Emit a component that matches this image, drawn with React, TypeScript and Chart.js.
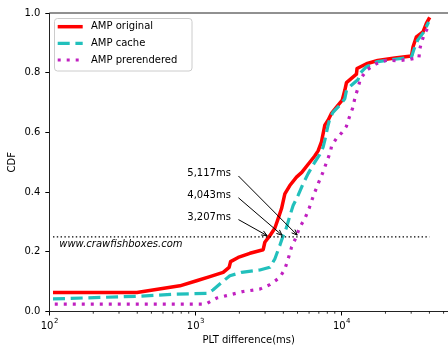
import React, { useEffect, useRef } from 'react';
import { Chart, registerables } from 'chart.js';

Chart.register(...registerables);

const FONT = "'DejaVu Sans', 'Liberation Sans', sans-serif";

// ---- data ----
const seriesLabels = ['AMP original', 'AMP cache', 'AMP prerendered'];
const seriesColors = ['#ff0000', '#22c0bc', '#c020c0'];

const originalX = [106, 398, 783, 1019, 1257, 1549, 1702, 1741, 1963, 2360, 2911, 2988, 3234, 3497, 3685, 3888, 4095, 4429, 4920, 5349, 6066, 6561, 6918, 7295, 7688, 8098, 8545, 9247, 10120, 10540, 10820, 11700, 12660, 12780, 14830, 17700, 23170, 30120, 30890, 32580, 36140, 38110, 40180];
const originalY = [0.064, 0.064, 0.086, 0.103, 0.117, 0.131, 0.148, 0.167, 0.181, 0.195, 0.207, 0.232, 0.254, 0.279, 0.311, 0.345, 0.394, 0.422, 0.45, 0.466, 0.5, 0.521, 0.538, 0.568, 0.624, 0.641, 0.664, 0.685, 0.708, 0.741, 0.767, 0.781, 0.795, 0.814, 0.83, 0.841, 0.849, 0.856, 0.887, 0.92, 0.937, 0.965, 0.985];

const cacheX = [106, 398, 724, 1218, 1318, 1510, 1722, 2070, 2761, 3234, 3497, 3783, 3987, 4206, 4429, 4667, 5047, 5459, 5910, 6561, 7108, 7487, 7688, 8098, 8318, 8770, 9732, 10540, 10820, 11700, 12990, 13340, 14830, 17350, 23170, 30120, 31230, 33240, 36560, 39510];
const cacheY = [0.042, 0.051, 0.058, 0.061, 0.072, 0.097, 0.12, 0.131, 0.139, 0.148, 0.176, 0.221, 0.254, 0.282, 0.32, 0.355, 0.389, 0.428, 0.462, 0.5, 0.526, 0.551, 0.573, 0.624, 0.646, 0.668, 0.691, 0.713, 0.741, 0.758, 0.777, 0.797, 0.82, 0.836, 0.845, 0.852, 0.876, 0.909, 0.936, 0.97];

const prerenderX = [109, 1180, 1397, 1634, 2123, 2761, 3234, 3783, 4095, 4315, 4549, 4900, 5150, 5600, 6000, 6450, 6950, 7450, 7900, 8400, 8560, 9250, 10100, 10800, 11300, 11900, 12400, 12900, 13500, 15000, 17300, 20400, 24300, 29300, 33900, 34400, 35400, 37500, 40200];
const prerenderY = [0.025, 0.025, 0.045, 0.053, 0.067, 0.075, 0.09, 0.114, 0.142, 0.176, 0.215, 0.25, 0.28, 0.31, 0.345, 0.39, 0.43, 0.465, 0.5, 0.535, 0.555, 0.58, 0.6, 0.62, 0.65, 0.68, 0.718, 0.745, 0.78, 0.81, 0.83, 0.842, 0.84, 0.845, 0.85, 0.88, 0.905, 0.935, 0.963];

const refLineX = [106, 40000];
const refLineY = [0.25, 0.25];

const annotValues = [5117, 4043, 3207];
const annotLabels = ['5,117ms', '4,043ms', '3,207ms'];
const annotTextY = [0.462, 0.389, 0.316];
const annotTextX = 880;
const annotTailX = 1970;
const annotLevel = 0.25;

const watermarkText = 'www.crawfishboxes.com';
const watermarkX = 117;
const watermarkY = 0.224;

const xMin = 100;
const xMax = 53600;
const xMajorTicks = [100, 1000, 10000];
const xTickBase = ['10', '10', '10'];
const xTickExp = ['2', '3', '4'];
const yTicks = [0, 0.2, 0.4, 0.6, 0.8, 1.0];

const xTitle = 'PLT difference(ms)';
const yTitle = 'CDF';

const dashes = [[], [12, 5.7], [3, 6]];
const widths = [3.5, 3.2, 3.2];

function pts(xs: number[], ys: number[]) {
  return xs.map((x, i) => ({ x, y: ys[i] }));
}

const decorPlugin = {
  id: 'decor',
  afterDatasetsDraw(chart: any) {
    const ctx: CanvasRenderingContext2D = chart.ctx;
    const xs = chart.scales.x;
    const ys = chart.scales.y;
    const ca = chart.chartArea;
    ctx.save();

    // top spine
    ctx.strokeStyle = '#222';
    ctx.lineWidth = 1;
    ctx.beginPath();
    ctx.moveTo(ca.left, ca.top);
    ctx.lineTo(ca.right, ca.top);
    ctx.stroke();

    // minor x ticks
    ctx.strokeStyle = '#000';
    ctx.lineWidth = 0.8;
    for (const dec of xMajorTicks) {
      for (let m = 2; m <= 9; m++) {
        const v = m * dec;
        if (v > xMax) continue;
        const px = xs.getPixelForValue(v);
        ctx.beginPath();
        ctx.moveTo(px, ca.bottom);
        ctx.lineTo(px, ca.bottom + 2.2);
        ctx.stroke();
      }
    }

    // x tick labels with superscripts
    ctx.fillStyle = '#000';
    ctx.textBaseline = 'alphabetic';
    for (let i = 0; i < xMajorTicks.length; i++) {
      const px = xs.getPixelForValue(xMajorTicks[i]);
      ctx.font = `10px ${FONT}`;
      const wb = ctx.measureText(xTickBase[i]).width;
      ctx.font = `7px ${FONT}`;
      const we = ctx.measureText(xTickExp[i]).width;
      const left = px - (wb + we) / 2;
      ctx.font = `10px ${FONT}`;
      ctx.textAlign = 'left';
      ctx.fillText(xTickBase[i], left, ca.bottom + 17);
      ctx.font = `7px ${FONT}`;
      ctx.fillText(xTickExp[i], left + wb + 0.5, ca.bottom + 11.5);
    }

    // watermark
    ctx.font = `italic 10px ${FONT}`;
    ctx.textAlign = 'left';
    ctx.textBaseline = 'middle';
    ctx.fillText(watermarkText, xs.getPixelForValue(watermarkX), ys.getPixelForValue(watermarkY));

    // annotations
    ctx.font = `10px ${FONT}`;
    for (let i = 0; i < annotValues.length; i++) {
      const tx = xs.getPixelForValue(annotTextX);
      const ty = ys.getPixelForValue(annotTextY[i]);
      ctx.fillStyle = '#000';
      ctx.textAlign = 'left';
      ctx.textBaseline = 'middle';
      ctx.fillText(annotLabels[i], tx, ty);
      const x0 = xs.getPixelForValue(annotTailX);
      const y0 = ys.getPixelForValue(annotTextY[i] - 0.008);
      const hx = xs.getPixelForValue(annotValues[i]);
      const hy = ys.getPixelForValue(annotLevel);
      const dx = hx - x0;
      const dy = hy - y0;
      const len = Math.sqrt(dx * dx + dy * dy);
      const ux = dx / len;
      const uy = dy / len;
      const ex = hx - ux * 2.5;
      const ey = hy - uy * 2.5;
      ctx.strokeStyle = '#000';
      ctx.lineWidth = 1;
      ctx.beginPath();
      ctx.moveTo(x0, y0);
      ctx.lineTo(ex, ey);
      ctx.stroke();
      const hl = 6;
      const ang = Math.atan2(uy, ux);
      ctx.beginPath();
      ctx.moveTo(ex - hl * Math.cos(ang - 0.4), ey - hl * Math.sin(ang - 0.4));
      ctx.lineTo(ex, ey);
      ctx.lineTo(ex - hl * Math.cos(ang + 0.4), ey - hl * Math.sin(ang + 0.4));
      ctx.stroke();
    }

    // legend
    const bx = 54.5, by = 18.5, bw = 137.5, bh = 52.5, r = 3;
    ctx.beginPath();
    ctx.moveTo(bx + r, by);
    ctx.lineTo(bx + bw - r, by);
    ctx.arcTo(bx + bw, by, bx + bw, by + r, r);
    ctx.lineTo(bx + bw, by + bh - r);
    ctx.arcTo(bx + bw, by + bh, bx + bw - r, by + bh, r);
    ctx.lineTo(bx + r, by + bh);
    ctx.arcTo(bx, by + bh, bx, by + bh - r, r);
    ctx.lineTo(bx, by + r);
    ctx.arcTo(bx, by, bx + r, by, r);
    ctx.closePath();
    ctx.fillStyle = 'rgba(255,255,255,0.8)';
    ctx.fill();
    ctx.strokeStyle = '#cccccc';
    ctx.lineWidth = 1;
    ctx.stroke();

    for (let i = 0; i < seriesLabels.length; i++) {
      const ly = 26.7 + i * 16.65;
      ctx.strokeStyle = seriesColors[i];
      ctx.lineWidth = widths[i];
      ctx.setLineDash(dashes[i]);
      ctx.lineCap = 'butt';
      ctx.beginPath();
      ctx.moveTo(57.7, ly);
      ctx.lineTo(82.7, ly);
      ctx.stroke();
      ctx.setLineDash([]);
      ctx.fillStyle = '#000';
      ctx.font = `10px ${FONT}`;
      ctx.textAlign = 'left';
      ctx.textBaseline = 'middle';
      ctx.fillText(seriesLabels[i], 91, ly);
    }

    ctx.restore();
  },
};

export default function App() {
  const ref = useRef<HTMLCanvasElement | null>(null);

  useEffect(() => {
    if (!ref.current) return;
    const seriesData = [pts(originalX, originalY), pts(cacheX, cacheY), pts(prerenderX, prerenderY)];
    const datasets: any[] = seriesLabels.map((label, i) => ({
      label,
      data: seriesData[i],
      borderColor: seriesColors[i],
      backgroundColor: seriesColors[i],
      borderWidth: widths[i],
      borderDash: dashes[i],
      borderCapStyle: 'butt',
      borderJoinStyle: 'round',
      pointRadius: 0,
      tension: 0,
      fill: false,
      order: 4 - i,
    }));
    datasets.push({
      label: 'ref',
      data: pts(refLineX, refLineY),
      borderColor: '#000',
      borderWidth: 1.4,
      borderDash: [1.4, 2.4],
      pointRadius: 0,
      fill: false,
      order: 0,
    });

    const chart = new Chart(ref.current, {
      type: 'line',
      data: { datasets },
      plugins: [decorPlugin],
      options: {
        animation: false,
        responsive: true,
        maintainAspectRatio: false,
        layout: { padding: { top: 13, left: 0, right: 0, bottom: 0 } },
        plugins: { legend: { display: false }, tooltip: { enabled: false } },
        scales: {
          x: {
            type: 'logarithmic',
            position: 'bottom',
            min: xMin,
            max: xMax,
            afterBuildTicks: (s: any) => {
              s.ticks = xMajorTicks.map((v) => ({ value: v }));
            },
            afterFit: (s: any) => {
              s.height = 35.5;
            },
            grid: { drawOnChartArea: false, drawTicks: true, tickLength: 4, tickColor: '#000', tickWidth: 1 },
            border: { display: true, color: '#222', width: 1 },
            ticks: { display: true, color: 'rgba(0,0,0,0)', font: { family: FONT, size: 10 }, autoSkip: false, maxRotation: 0, callback: () => '' },
            title: { display: true, text: xTitle, color: '#000', font: { family: FONT, size: 10 }, padding: { top: 0, bottom: 1 } },
          },
          y: {
            type: 'linear',
            position: 'left',
            min: 0,
            max: 1,
            afterBuildTicks: (s: any) => {
              s.ticks = yTicks.map((v) => ({ value: v }));
            },
            afterFit: (s: any) => {
              s.width = 49.3;
            },
            grid: { drawOnChartArea: false, drawTicks: true, tickLength: 4, tickColor: '#000', tickWidth: 1 },
            border: { display: true, color: '#222', width: 1 },
            ticks: { color: '#000', font: { family: FONT, size: 10 }, padding: 5, callback: (v: any) => Number(v).toFixed(1) },
            title: { display: true, text: yTitle, color: '#000', font: { family: FONT, size: 10 }, padding: { top: 6, bottom: 0 } },
          },
        },
      } as any,
    });
    return () => chart.destroy();
  }, []);

  return (
    <div style={{ position: 'absolute', left: 0, top: 0, width: 448, height: 347, background: '#fff' }}>
      <canvas ref={ref} />
    </div>
  );
}
